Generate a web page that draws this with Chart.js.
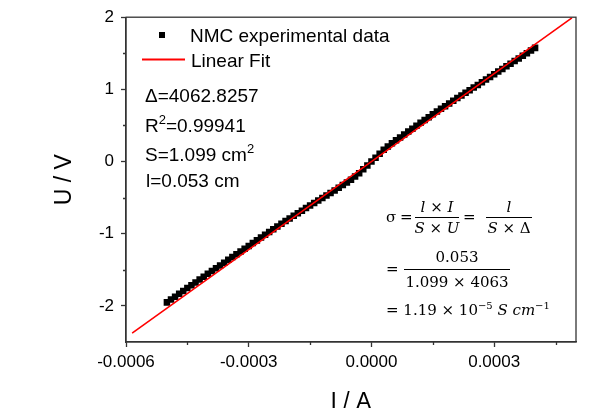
<!DOCTYPE html>
<html>
<head>
<meta charset="utf-8">
<script src="https://cdn.jsdelivr.net/npm/chart.js@4/dist/chart.umd.min.js"></script>
<style>
  html, body { margin: 0; padding: 0; background: #fff; }
  #grafico { display: block; }
</style>
</head>
<body>
<canvas id="grafico" width="595" height="408"></canvas>
<script>
// I / A readings of the NMC pellet
let currentA = [
    -0.00050, -0.00049, -0.00048, -0.00047, -0.00046, -0.00045, -0.00044, -0.00043, -0.00042, -0.00041,
    -0.00040, -0.00039, -0.00038, -0.00037, -0.00036, -0.00035, -0.00034, -0.00033, -0.00032, -0.00031,
    -0.00030, -0.00029, -0.00028, -0.00027, -0.00026, -0.00025, -0.00024, -0.00023, -0.00022, -0.00021,
    -0.00020, -0.00019, -0.00018, -0.00017, -0.00016, -0.00015, -0.00014, -0.00013, -0.00012, -0.00011,
    -0.00010, -0.00009, -0.00008, -0.00007, -0.00006, -0.00005, -0.00004, -0.00003, -0.00002, -0.00001,
    0.00000, 0.00001, 0.00002, 0.00003, 0.00004, 0.00005, 0.00006, 0.00007, 0.00008, 0.00009,
    0.00010, 0.00011, 0.00012, 0.00013, 0.00014, 0.00015, 0.00016, 0.00017, 0.00018, 0.00019,
    0.00020, 0.00021, 0.00022, 0.00023, 0.00024, 0.00025, 0.00026, 0.00027, 0.00028, 0.00029,
    0.00030, 0.00031, 0.00032, 0.00033, 0.00034, 0.00035, 0.00036, 0.00037, 0.00038, 0.00039,
    0.00040
]
// U / V readings
let voltageV = [
    -1.951, -1.912, -1.872, -1.833, -1.793, -1.753, -1.714, -1.674, -1.634, -1.595,
    -1.555, -1.517, -1.478, -1.439, -1.401, -1.362, -1.323, -1.285, -1.246, -1.208,
    -1.169, -1.130, -1.092, -1.053, -1.014, -0.976, -0.938, -0.900, -0.863, -0.825,
    -0.788, -0.752, -0.716, -0.681, -0.645, -0.609, -0.575, -0.540, -0.506, -0.471,
    -0.436, -0.400, -0.363, -0.326, -0.290, -0.253, -0.208, -0.162, -0.108, -0.054,
    0.000, 0.054, 0.108, 0.162, 0.208, 0.253, 0.294, 0.334, 0.375, 0.416,
    0.456, 0.496, 0.536, 0.575, 0.615, 0.654, 0.692, 0.730, 0.767, 0.805,
    0.843, 0.879, 0.916, 0.952, 0.989, 1.026, 1.062, 1.099, 1.136, 1.172,
    1.209, 1.246, 1.282, 1.319, 1.355, 1.392, 1.429, 1.465, 1.502, 1.539,
    1.575
]
// linear fit end points
let fitCurrentA = [-0.000585, 0.00049]
let fitVoltageV = [-2.377, 1.991]

let xTicks = [-0.0006, -0.0003, 0, 0.0003]
let xMinorTicks = [-0.00045, -0.00015, 0.00015, 0.00045]
let yTicks = [-2, -1, 0, 1, 2]
let yMinorTicks = [-1.5, -0.5, 0.5, 1.5]

const sans = '"Liberation Sans", Arial, sans-serif'
const serif = '"DejaVu Serif", serif'
const ejeColor = '#333333'

function fuente(r, size, family) {
    return (r.i ? 'italic ' : '') + (r.sup ? Math.round(size * 0.66) : size) + 'px ' + family
}
function anchoRuns(ctx, runs, size, family) {
    let w = 0
    runs.forEach(r => { ctx.font = fuente(r, size, family); w += ctx.measureText(r.t).width })
    return w
}
function dibujarRuns(ctx, runs, x, y, size, family) {
    runs.forEach(r => {
        ctx.font = fuente(r, size, family)
        ctx.fillText(r.t, x, r.sup ? y - size * 0.42 : y)
        x += ctx.measureText(r.t).width
    })
    return x
}
function centrarRuns(ctx, runs, cx, y, size, family) {
    let w = anchoRuns(ctx, runs, size, family)
    dibujarRuns(ctx, runs, cx - w / 2, y, size, family)
}
function fraccion(ctx, num, den, x1, x2, barY, numY, denY, size) {
    let cx = (x1 + x2) / 2
    centrarRuns(ctx, num, cx, numY, size, serif)
    centrarRuns(ctx, den, cx, denY, size, serif)
    ctx.beginPath()
    ctx.lineWidth = 1
    ctx.moveTo(x1, barY)
    ctx.lineTo(x2, barY)
    ctx.stroke()
}

const anotaciones = {
    id: 'anotaciones',
    afterDraw(chart) {
        const ctx = chart.ctx
        const area = chart.chartArea
        const xs = chart.scales.x
        const ys = chart.scales.y
        ctx.save()

        // marco
        ctx.strokeStyle = ejeColor
        ctx.lineWidth = 1.3
        ctx.strokeRect(area.left, area.top, area.right - area.left, area.bottom - area.top)

        // ticks menores
        ctx.beginPath()
        xMinorTicks.forEach(v => {
            let px = Math.round(xs.getPixelForValue(v)) + 0.5
            ctx.moveTo(px, area.bottom)
            ctx.lineTo(px, area.bottom + 3)
        })
        yMinorTicks.forEach(v => {
            let py = Math.round(ys.getPixelForValue(v)) + 0.5
            ctx.moveTo(area.left, py)
            ctx.lineTo(area.left - 3, py)
        })
        ctx.stroke()

        // leyenda
        ctx.fillStyle = '#000'
        ctx.textBaseline = 'alphabetic'
        ctx.textAlign = 'left'
        ctx.fillRect(159, 32, 6, 6)
        ctx.font = '19px ' + sans
        ctx.fillText('NMC experimental data', 190, 42)
        ctx.strokeStyle = '#ff0000'
        ctx.lineWidth = 2
        ctx.beginPath()
        ctx.moveTo(142, 59.5)
        ctx.lineTo(185, 59.5)
        ctx.stroke()
        ctx.fillText('Linear Fit', 191, 67)

        // parametros
        dibujarRuns(ctx, [{ t: 'Δ=4062.8257' }], 145, 102, 19, sans)
        dibujarRuns(ctx, [{ t: 'R' }, { t: '2', sup: true }, { t: '=0.99941' }], 145, 132, 19, sans)
        dibujarRuns(ctx, [{ t: 'S=1.099 cm' }, { t: '2', sup: true }], 145, 161, 19, sans)
        dibujarRuns(ctx, [{ t: 'l=0.053 cm' }], 146, 187, 19, sans)

        // formula
        ctx.strokeStyle = '#000'
        let fs = 15
        dibujarRuns(ctx, [{ t: 'σ' }], 386, 222, fs, serif)
        dibujarRuns(ctx, [{ t: '=' }], 400, 222, fs, serif)
        fraccion(ctx, [{ t: 'l', i: true }, { t: ' × ' }, { t: 'I', i: true }],
            [{ t: 'S', i: true }, { t: ' × ' }, { t: 'U', i: true }], 415, 459, 217.5, 212, 233, fs)
        dibujarRuns(ctx, [{ t: '=' }], 463, 222, fs, serif)
        fraccion(ctx, [{ t: 'l', i: true }],
            [{ t: 'S', i: true }, { t: ' × ' }, { t: 'Δ' }], 486, 532, 217.5, 212, 233, fs)

        dibujarRuns(ctx, [{ t: '=' }], 386, 274, fs, serif)
        fraccion(ctx, [{ t: '0.053' }], [{ t: '1.099 × 4063' }], 404, 510, 269.5, 262, 287, fs)

        dibujarRuns(ctx, [{ t: '= 1.19 × 10' }, { t: '−5', sup: true }, { t: ' ' }, { t: 'S', i: true },
            { t: ' ' }, { t: 'cm', i: true }, { t: '−1', sup: true }], 386, 315, fs, serif)

        ctx.restore()
    }
}

let puntos = currentA.map((x, i) => ({ x: x, y: voltageV[i] }))
let ajuste = fitCurrentA.map((x, i) => ({ x: x, y: fitVoltageV[i] }))

const data = {
    datasets: [
        {
            label: 'Linear Fit',
            data: ajuste,
            showLine: true,
            borderColor: '#ff0000',
            borderWidth: 1.6,
            pointRadius: 0,
            fill: false,
            order: 0
        },
        {
            label: 'NMC experimental data',
            data: puntos,
            pointStyle: 'rect',
            pointRadius: 4.6,
            backgroundColor: '#000',
            borderColor: '#000',
            borderWidth: 0,
            order: 1
        }
    ]
}

const config = {
    type: 'scatter',
    data: data,
    options: {
        responsive: false,
        animation: false,
        devicePixelRatio: 1,
        layout: { padding: { left: 0, right: 19, top: 11, bottom: 0 } },
        plugins: {
            legend: { display: false },
            tooltip: { enabled: false }
        },
        scales: {
            x: {
                type: 'linear',
                min: -0.0006,
                max: 0.0005,
                afterBuildTicks: s => { s.ticks = xTicks.map(v => ({ value: v })) },
                afterFit: s => { s.height = 66 },
                grid: { drawOnChartArea: false, drawTicks: true, tickLength: 5, tickColor: ejeColor, tickWidth: 1.3 },
                border: { display: true, color: ejeColor, width: 1.3 },
                ticks: {
                    color: '#000',
                    padding: 5,
                    maxRotation: 0,
                    font: { family: sans, size: 17 },
                    callback: v => v.toFixed(4)
                },
                title: {
                    display: true,
                    text: 'I / A',
                    color: '#000',
                    font: { family: sans, size: 23, lineHeight: 1 },
                    padding: { top: 0, bottom: -6 }
                }
            },
            y: {
                type: 'linear',
                min: -2.5,
                max: 2,
                afterBuildTicks: s => { s.ticks = yTicks.map(v => ({ value: v })) },
                afterFit: s => { s.width = 126 },
                grid: { drawOnChartArea: false, drawTicks: true, tickLength: 5, tickColor: ejeColor, tickWidth: 1.3 },
                border: { display: true, color: ejeColor, width: 1.3 },
                ticks: {
                    color: '#000',
                    padding: 7,
                    font: { family: sans, size: 17 },
                    callback: v => String(v)
                },
                title: {
                    display: true,
                    text: 'U / V',
                    color: '#000',
                    font: { family: sans, size: 23, lineHeight: 1 },
                    padding: { top: 53, bottom: 0 }
                }
            }
        }
    },
    plugins: [anotaciones]
}

let myChart = new Chart(document.getElementById('grafico'), config)
</script>
</body>
</html>
